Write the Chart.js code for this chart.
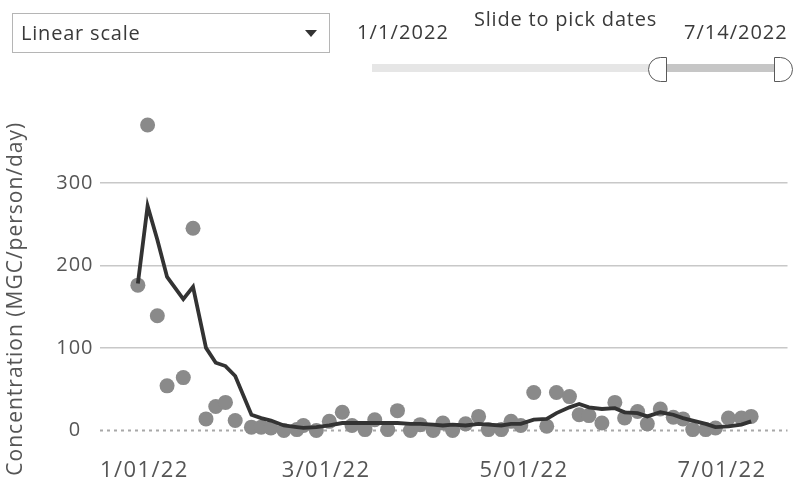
<!DOCTYPE html>
<html>
<head>
<meta charset="utf-8">
<script src="https://cdn.jsdelivr.net/npm/chart.js@4.4.1/dist/chart.umd.min.js"></script>
<style>
  html, body { margin: 0; padding: 0; background: #fff; }
  body { width: 795px; height: 492px; position: relative; overflow: hidden; font-family: 'Open Sans', sans-serif; color: #333; }
  #chartBox { position: absolute; left: 0; top: 0; width: 795px; height: 492px; }
  .dropdown { position: absolute; left: 12px; top: 13px; width: 318px; height: 40px; box-sizing: border-box;
              border: 1px solid #b5b5b5; background: #fff; }
  .dropdown .txt { position: absolute; left: 8px; top: 0; line-height: 38px; font-size: 20px; color: #3a3a3a; letter-spacing: 0.8px; }
  .dropdown .arrow { position: absolute; left: 292px; top: 16px; width: 0; height: 0;
              border-left: 6px solid transparent; border-right: 6px solid transparent; border-top: 7px solid #333; }
  .lbl { position: absolute; font-size: 20px; color: #3a3a3a; white-space: nowrap; line-height: 24px; }
  .track { position: absolute; height: 8px; top: 64px; }
  .handle { position: absolute; top: 57px; width: 19px; height: 25px; box-sizing: border-box; background: #fff; border: 1.5px solid #5a5a5a; }
</style>
</head>
<body>
<div id="chartBox"><canvas id="c" width="795" height="492"></canvas></div>

<div class="dropdown"><span class="txt" id="scaleTxt"></span><span class="arrow"></span></div>
<div class="lbl" id="rangeStart" style="left:357px; top:20px; letter-spacing:1.1px;"></div>
<div class="lbl" id="sliderTitle" style="left:474px; top:7px; letter-spacing:0.8px;"></div>
<div class="lbl" id="rangeEnd" style="left:684px; top:20px; letter-spacing:1px;"></div>
<div class="track" style="left:372px; width:280px; background:#e6e6e6;"></div>
<div class="track" style="left:660px; width:118px; background:#c6c6c6;"></div>
<div class="handle" style="left:648px; border-radius:13px 0 0 13px;"></div>
<div class="handle" style="left:774px; border-radius:0 13px 13px 0;"></div>

<script>
// ---------------- data ----------------
const scaleLabel = 'Linear scale';
const sliderTitle = 'Slide to pick dates';
const rangeStart = '1/1/2022';
const rangeEnd = '7/14/2022';
const yAxisTitle = 'Concentration (MGC/person/day)';

const sampleDates = [
  '2022-01-02','2022-01-05','2022-01-08','2022-01-11','2022-01-16','2022-01-19','2022-01-23','2022-01-26','2022-01-29',
  '2022-02-01','2022-02-06','2022-02-09','2022-02-12','2022-02-16','2022-02-20','2022-02-22','2022-02-26',
  '2022-03-02','2022-03-06','2022-03-09','2022-03-13','2022-03-16','2022-03-20','2022-03-23','2022-03-27','2022-03-30',
  '2022-04-03','2022-04-06','2022-04-09','2022-04-13','2022-04-17','2022-04-20','2022-04-24','2022-04-27','2022-04-30',
  '2022-05-04','2022-05-08','2022-05-11','2022-05-15','2022-05-18','2022-05-21','2022-05-25','2022-05-29',
  '2022-06-01','2022-06-05','2022-06-08','2022-06-12','2022-06-16','2022-06-19','2022-06-22','2022-06-26','2022-06-29',
  '2022-07-03','2022-07-07','2022-07-10'
];
const concentration = [
  176, 370, 139, 54, 64, 245, 14, 29, 34,
  12, 4, 4, 3, 0, 1, 6, 0,
  11, 22, 6, 1, 13, 1, 24, 0, 7,
  0, 9, 0, 8, 17, 1, 1, 11, 6,
  46, 5, 46, 41, 19, 18, 9, 34,
  15, 23, 8, 26, 16, 14, 1, 1, 3,
  15, 15, 17
];
const rollingAverage = [
  178, 272, 231, 186, 159, 174, 100, 82, 78,
  66, 19, 15, 12, 6, 4, 3, 4,
  6, 9, 9, 9, 9, 9, 9, 8, 8,
  7, 6, 7, 6, 8, 7, 6, 8, 8,
  13, 14, 21, 28, 32, 28, 26, 27,
  22, 21, 17, 22, 19, 15, 12, 8, 4,
  5, 7, 11
];
const yTickValues = [0, 100, 200, 300];
const xTickDates = ['2022-01-01', '2022-03-01', '2022-05-01', '2022-07-01'];
const xTickLabels = ['1/01/22', '3/01/22', '5/01/22', '7/01/22'];

// ---------------- helpers ----------------
function dayOf(s) {
  const [y, m, d] = s.split('-').map(Number);
  return (Date.UTC(y, m - 1, d) - Date.UTC(2022, 0, 1)) / 86400000;
}

document.getElementById('scaleTxt').textContent = scaleLabel;
document.getElementById('sliderTitle').textContent = sliderTitle;
document.getElementById('rangeStart').textContent = rangeStart;
document.getElementById('rangeEnd').textContent = rangeEnd;

const pointData = sampleDates.map((d, i) => ({ x: dayOf(d), y: concentration[i] }));
const lineData = sampleDates.map((d, i) => ({ x: dayOf(d), y: rollingAverage[i] }));

const overlay = {
  id: 'overlay',
  beforeDraw(chart) {
    chart.ctx.letterSpacing = '1px';
  },
  beforeDatasetsDraw(chart) {
    const { ctx, chartArea, scales } = chart;
    const y0 = scales.y.getPixelForValue(0);
    ctx.save();
    ctx.strokeStyle = '#a8a8a8';
    ctx.lineWidth = 2;
    ctx.setLineDash([3, 4]);
    ctx.beginPath();
    ctx.moveTo(chartArea.left, y0);
    ctx.lineTo(chartArea.right, y0);
    ctx.stroke();
    ctx.restore();
  },
  afterDraw(chart) {
    const { ctx, chartArea, scales } = chart;
    ctx.save();
    ctx.letterSpacing = '1.4px';
    ctx.font = '22px "Open Sans"';
    ctx.fillStyle = '#555';
    ctx.textBaseline = 'middle';
    ctx.textAlign = 'left';
    xTickDates.forEach((d, i) => {
      const px = scales.x.getPixelForValue(dayOf(d));
      const w = ctx.measureText(xTickLabels[i]).width;
      let left = Math.max(px - w / 2, chartArea.left);
      left = Math.min(left, chartArea.right - w);
      ctx.fillText(xTickLabels[i], left, chartArea.bottom + 27);
    });
    ctx.translate(16, (chartArea.top + chartArea.bottom) / 2 + 21);
    ctx.rotate(-Math.PI / 2);
    ctx.textAlign = 'center';
    ctx.letterSpacing = '1px';
    ctx.font = '21px "Open Sans"';
    ctx.fillText(yAxisTitle, 0, 0);
    ctx.restore();
  }
};

new Chart(document.getElementById('c'), {
  data: {
    datasets: [
      {
        type: 'line', label: 'Rolling average', data: lineData, order: 0,
        borderColor: '#333333', borderWidth: 3.8, pointRadius: 0, tension: 0, fill: false
      },
      {
        type: 'scatter', label: 'Concentration', data: pointData, order: 1,
        backgroundColor: '#8a8a8a', borderWidth: 0, pointRadius: 7.5, pointHoverRadius: 7.5
      }
    ]
  },
  options: {
    responsive: false,
    animation: false,
    devicePixelRatio: 1,
    layout: { padding: { top: 112, left: 0, right: 0, bottom: 0 } },
    plugins: { legend: { display: false }, tooltip: { enabled: false } },
    scales: {
      x: {
        type: 'linear', min: -10.67, max: 201.2,
        grid: { display: false }, border: { display: false },
        ticks: { display: false },
        afterFit(s) { s.height = 48.6; }
      },
      y: {
        type: 'linear', min: -15.7, max: 385.8,
        afterBuildTicks(s) { s.ticks = yTickValues.map(v => ({ value: v })); },
        grid: {
          drawTicks: false, lineWidth: 1.5,
          color: c => (c.tick && c.tick.value === 0) ? 'rgba(0,0,0,0)' : '#c8c8c8'
        },
        border: { display: false },
        ticks: { font: { family: 'Open Sans', size: 20 }, color: '#555', padding: 8, crossAlign: 'center' },
        afterFit(s) { s.width = 100; }
      }
    }
  },
  plugins: [overlay]
});
</script>
</body>
</html>
